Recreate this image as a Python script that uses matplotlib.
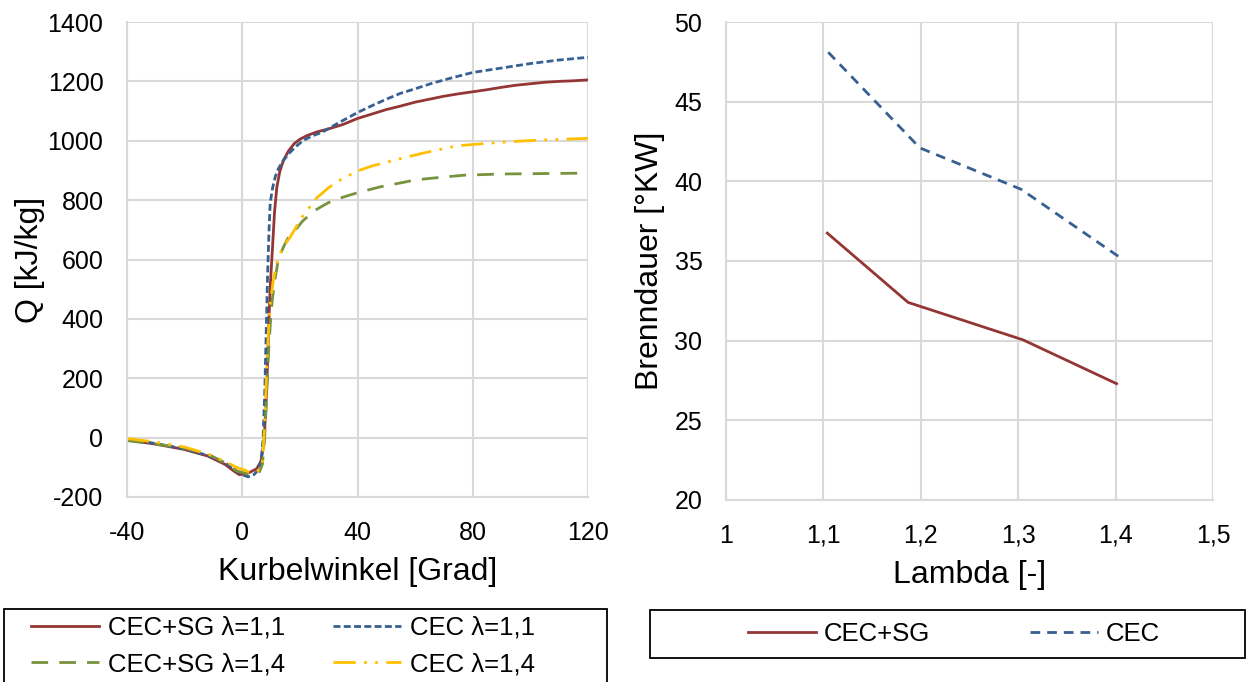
import matplotlib.pyplot as plt
from matplotlib.patches import Rectangle
from matplotlib.ticker import FuncFormatter, MultipleLocator

plt.rcParams["font.family"] = ["Liberation Sans", "DejaVu Sans"]
plt.rcParams["axes.unicode_minus"] = False

# left chart: cumulative heat release vs crank angle
red_x = [-40, -30, -20, -12, -6, -3, -1, 1, 3, 5, 6.5, 7.5, 8.2, 8.7, 9.2, 9.7, 10.5, 11.2, 12, 13,
         14.3, 16, 18, 20, 22.6, 26, 30, 35, 40, 45, 50, 55, 60, 65, 70, 75, 80, 85, 90, 95, 100,
         105, 110, 115, 120]
red_q = [-8, -22, -40, -62, -90, -112, -125, -122, -115, -105, -80, -20, 100, 227, 380, 507, 640, 760,
         843, 895, 934, 965, 990, 1005, 1018, 1030, 1040, 1055, 1075, 1090, 1105, 1117, 1130, 1140,
         1150, 1158, 1165, 1172, 1180, 1187, 1192, 1197, 1200, 1202, 1205]

blue_x = [-40, -30, -20, -12, -6, -3, 0, 2, 4, 5.5, 6.5, 7.2, 7.8, 8.3, 8.8, 9.3, 9.7, 10.5, 11.5,
          12.5, 14, 16, 18, 21, 24, 28, 33, 40, 45, 50, 55, 60, 66, 72, 80, 90, 100, 110, 120]
blue_q = [-5, -20, -38, -60, -85, -105, -125, -132, -125, -110, -80, -10, 150, 350, 550, 700, 790,
          840, 880, 905, 930, 955, 975, 1000, 1015, 1030, 1058, 1095, 1118, 1140, 1160, 1175, 1194,
          1210, 1230, 1245, 1260, 1272, 1281]

green_x = [-40, -30, -20, -12, -6, -2, 1, 4, 6, 7, 7.8, 8.5, 9.2, 10, 10.4, 11.5, 12.5, 14.3, 16,
           18.4, 21, 25.3, 30, 35, 40, 48, 56, 60, 68, 77, 90, 100, 110, 120]
green_q = [-10, -22, -35, -55, -85, -112, -120, -126, -115, -90, 0, 150, 300, 420, 463, 540, 600,
           642, 675, 699, 730, 766, 792, 810, 825, 845, 860, 868, 876, 884, 888, 889, 890, 891]

yellow_x = [-40, -30, -20, -12, -6, -2, 1, 3, 5, 6.9, 7.8, 8.6, 9.2, 9.7, 10.8, 12, 14, 16.6, 20.7,
            25.9, 30, 34, 40, 45, 51, 57, 64, 74.6, 86, 95, 105, 120]
yellow_q = [-3, -15, -32, -55, -80, -100, -110, -120, -115, -99, 50, 261, 380, 453, 530, 588, 640,
            675, 742, 808, 842, 868, 898, 915, 930, 945, 961, 983, 992, 998, 1003, 1008]

# right chart: combustion duration vs lambda
lam_sg = [1.104, 1.187, 1.305, 1.401]
dur_sg = [36.75, 32.4, 30.05, 27.3]
lam_cec = [1.105, 1.199, 1.303, 1.405]
dur_cec = [48.1, 42.1, 39.5, 35.2]

c_red = "#943634"
c_blue = "#376092"
c_green = "#77933c"
c_yellow = "#ffc000"
grid_c = "#d9d9d9"

W, H = 1247, 682
fig = plt.figure(figsize=(W / 100, H / 100), dpi=100)


def style(ax):
    for s in ["top", "right"]:
        ax.spines[s].set_visible(False)
    for s in ["left", "bottom"]:
        ax.spines[s].set_color(grid_c)
        ax.spines[s].set_linewidth(1.5)
    ax.grid(True, color=grid_c, linewidth=1.5)
    ax.set_axisbelow(True)
    ax.tick_params(length=0, labelsize=18)
    ax.tick_params(axis="x", pad=17)
    ax.tick_params(axis="y", pad=17)


ax1 = fig.add_axes([127 / W, 1 - 497 / H, 461 / W, 475 / H])
style(ax1)
ax1.plot(red_x, red_q, color=c_red, lw=2, label="CEC+SG λ=1,1")
ax1.plot(blue_x, blue_q, color=c_blue, lw=2, linestyle=(0, (2.5, 1.2)), label="CEC λ=1,1")
ax1.plot(green_x, green_q, color=c_green, lw=2, linestyle=(0, (6, 4)), label="CEC+SG λ=1,4")
ax1.plot(yellow_x, yellow_q, color=c_yellow, lw=2, linestyle=(0, (8, 3, 1, 3, 1, 3)),
         label="CEC λ=1,4")
ax1.set_xlim(-40, 120)
ax1.set_ylim(-200, 1400)
ax1.xaxis.set_major_locator(MultipleLocator(40))
ax1.yaxis.set_major_locator(MultipleLocator(200))
ax1.set_xlabel("Kurbelwinkel [Grad]", fontsize=23, labelpad=9)
ax1.set_ylabel("Q [kJ/kg]", fontsize=23, labelpad=2)

ax2 = fig.add_axes([726 / W, 1 - 500 / H, 487 / W, 478 / H])
style(ax2)
ax2.plot(lam_sg, dur_sg, color=c_red, lw=2, label="CEC+SG")
ax2.plot(lam_cec, dur_cec, color=c_blue, lw=2, linestyle=(0, (3.5, 2.5)), label="CEC")
ax2.set_xlim(1, 1.5)
ax2.set_ylim(20, 50)
ax2.xaxis.set_major_locator(MultipleLocator(0.1))
ax2.yaxis.set_major_locator(MultipleLocator(5))
ax2.xaxis.set_major_formatter(FuncFormatter(lambda v, p: f"{v:.1f}".replace(".", ",").replace(",0", "")))
ax2.set_xlabel("Lambda [-]", fontsize=23, labelpad=9)
ax2.set_ylabel("Brenndauer [°KW]", fontsize=23, labelpad=7)

# legend frames drawn as plain rectangles (pixel coords from the top)
fig.patches.append(Rectangle((4 / W, 1 - 700 / H), 603 / W, 91 / H, transform=fig.transFigure,
                             fill=False, edgecolor="black", linewidth=1.3))
fig.patches.append(Rectangle((650 / W, 1 - 658 / H), 595 / W, 48 / H, transform=fig.transFigure,
                             fill=False, edgecolor="black", linewidth=1.3))

h1, l1 = ax1.get_legend_handles_labels()
order = [0, 2, 1, 3]
fig.legend([h1[i] for i in order], [l1[i] for i in order], loc="upper left", ncol=2,
           bbox_to_anchor=(31 / W, 1 - 616 / H), frameon=False, fontsize=18.5,
           borderpad=0, borderaxespad=0, handlelength=2.65, handletextpad=0.35,
           columnspacing=1.85, labelspacing=0.48)

h2, l2 = ax2.get_legend_handles_labels()
fig.legend(h2, l2, loc="center left", ncol=2,
           bbox_to_anchor=(748 / W, 1 - 634 / H), frameon=False, fontsize=18.5,
           borderpad=0, borderaxespad=0, handlelength=2.65, handletextpad=0.3,
           columnspacing=3.9)

fig.savefig("out.png", dpi=100)
